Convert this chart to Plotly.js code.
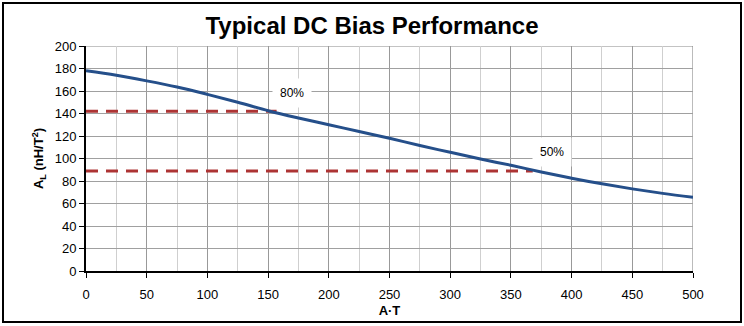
<!DOCTYPE html>
<html>
<head>
<meta charset="utf-8">
<script src="https://cdn.plot.ly/plotly-3.0.1.min.js"></script>
<style>
  html, body { margin: 0; padding: 0; background: #fff; }
  #wrap { position: relative; width: 744px; height: 326px; }
  #chart { width: 744px; height: 326px; }
  #frame { position: absolute; left: 2px; top: 2px; width: 736px; height: 317px;
           border: 2px solid #000; pointer-events: none; }
</style>
</head>
<body>
<div id="wrap">
  <div id="chart"></div>
  <div id="frame"></div>
</div>
<script>
// Ampere-turns (x) and inductance factor A_L (y)
const ampereTurns = [0, 25, 50, 75, 100, 125, 150, 175, 200, 225, 250, 275, 300, 325, 350, 375, 400, 425, 450, 475, 500];
const alValues    = [178, 174, 169, 163.5, 157, 150, 142.5, 136, 130, 124, 118, 111.5, 105.5, 99.5, 94, 88, 82.5, 77.5, 73, 69, 65.5];

// Reference levels (80% and 50% of initial A_L)
const level80X = [0, 157];
const level80Y = [142, 142];
const level50X = [0, 368];
const level50Y = [89, 89];

const labelTexts = ["80%", "50%"];
const labelX = [170, 384];
const labelY = [158, 106];

const xTicks = [0, 50, 100, 150, 200, 250, 300, 350, 400, 450, 500];
const yTicks = [0, 20, 40, 60, 80, 100, 120, 140, 160, 180, 200];

const dashColor = '#ad3434';
const lineColor = '#254f8a';

const traces = [
  { x: level80X, y: level80Y, mode: 'lines', line: { color: dashColor, width: 3, dash: '12px,8px' }, hoverinfo: 'skip' },
  { x: level50X, y: level50Y, mode: 'lines', line: { color: dashColor, width: 3, dash: '12px,8px' }, hoverinfo: 'skip' },
  { x: ampereTurns, y: alValues, mode: 'lines', line: { color: lineColor, width: 3, shape: 'spline' } }
];

const annotations = labelTexts.map((t, i) => ({
  x: labelX[i], y: labelY[i], xref: 'x', yref: 'y', text: t, showarrow: false,
  font: { family: 'Liberation Sans, Arial, sans-serif', size: 12, color: '#000' },
  bgcolor: '#fff', borderpad: 7
}));

const layout = {
  width: 744, height: 326,
  margin: { l: 86, r: 51, t: 46, b: 55 },
  paper_bgcolor: '#fff', plot_bgcolor: '#fff',
  showlegend: false,
  font: { family: 'Liberation Sans, Arial, sans-serif', size: 13, color: '#000' },
  title: {
    text: '<b>Typical DC Bias Performance</b>',
    font: { family: 'Liberation Sans, Arial, sans-serif', size: 24, color: '#000' },
    x: 0.5, xref: 'container', y: 0.92, yref: 'container', yanchor: 'middle'
  },
  xaxis: {
    range: [0, 500], tickvals: xTicks, ticktext: xTicks.map(String),
    tickfont: { size: 13 },
    showgrid: true, gridcolor: '#999', gridwidth: 1,
    minor: { dtick: 25, showgrid: true, gridcolor: '#cfcfcf', gridwidth: 1, ticks: '' },
    showline: true, linecolor: '#000', linewidth: 2,
    ticks: 'outside', ticklen: 5, tickcolor: '#000', tickwidth: 1,
    ticklabelstandoff: 5,
    zeroline: false, fixedrange: true,
    title: { text: '<b>A·T</b>', font: { size: 13 }, standoff: 5 }
  },
  yaxis: {
    range: [0, 200], tickvals: yTicks, ticktext: yTicks.map(String),
    tickfont: { size: 13 },
    showgrid: true, gridcolor: '#a0a0a0', gridwidth: 1,
    showline: true, linecolor: '#000', linewidth: 2,
    ticks: 'outside', ticklen: 5, tickcolor: '#000', tickwidth: 1,
    zeroline: false, fixedrange: true,
    title: { text: '<b>A<sub>L</sub> (nH/T<sup>2</sup>)</b>', font: { size: 13 }, standoff: 8 }
  },
  shapes: [
    { type: 'line', xref: 'x', yref: 'y', x0: 500, x1: 500, y0: 0, y1: 200, line: { color: '#777', width: 1 }, layer: 'below' },
    { type: 'line', xref: 'x', yref: 'y', x0: 0, x1: 500, y0: 200, y1: 200, line: { color: '#888', width: 1 }, layer: 'below' }
  ],
  annotations: annotations
};

Plotly.newPlot('chart', traces, layout, { displayModeBar: false, staticPlot: true });
</script>
</body>
</html>
